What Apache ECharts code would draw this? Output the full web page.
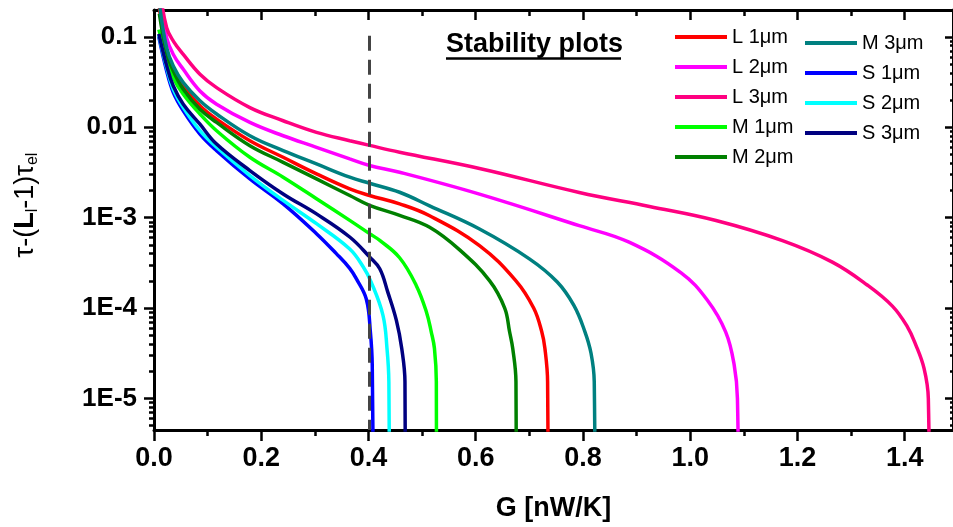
<!DOCTYPE html>
<html>
<head>
<meta charset="utf-8">
<script src="https://cdn.jsdelivr.net/npm/echarts@6/dist/echarts.min.js"></script>
<style>
    html, body { margin: 0; padding: 0; background: #fff; }
    #chart { width: 953px; height: 527px; }
</style>
</head>
<body>
<div id="chart"></div>
<script>
// values: [G (nW/K), tau-(L-1)tau_el]
var L1 = [[0.010, 0.21], [0.0236, 0.0695], [0.036, 0.0437], [0.0546, 0.0286], [0.0857, 0.0173], [0.1167, 0.0123],
    [0.1788, 0.0071], [0.2408, 0.00465], [0.303, 0.00305], [0.365, 0.00208], [0.402, 0.00176], [0.458, 0.00142],
    [0.514, 0.00105], [0.607, 4.91e-4], [0.675, 2.0e-4], [0.708, 1.0e-4], [0.723, 5.5e-5], [0.729, 3.57e-5],
    [0.734, 1.53e-5], [0.7355, 1e-7]];
var L2 = [[0.011, 0.25], [0.0236, 0.0975], [0.036, 0.0638], [0.0546, 0.0437], [0.0857, 0.0252], [0.1167, 0.018],
    [0.1788, 0.0113], [0.2408, 0.00805], [0.303, 0.006], [0.365, 0.00446], [0.402, 0.00377], [0.458, 0.00318],
    [0.607, 0.00182], [0.793, 8.15e-4], [0.886, 5.35e-4], [0.983, 2.45e-4], [1.032, 1.22e-4], [1.066, 5.46e-5],
    [1.082, 2.34e-5], [1.088, 1.0e-5], [1.091, 1e-7]];
var L3 = [[0.012, 0.3], [0.0236, 0.126], [0.036, 0.0897], [0.0546, 0.0638], [0.0857, 0.0385], [0.1167, 0.0274],
    [0.1788, 0.0165], [0.2408, 0.0118], [0.303, 0.00877], [0.365, 0.0071], [0.402, 0.0063], [0.458, 0.0053],
    [0.607, 0.0035], [0.793, 0.0019], [0.924, 0.00133], [1.048, 9.3e-4], [1.172, 5.57e-4], [1.265, 3.22e-4],
    [1.33, 1.8e-4], [1.377, 1.05e-4], [1.405, 6.2e-5], [1.420, 4.0e-5], [1.436, 2.15e-5], [1.444, 1.0e-5],
    [1.447, 1e-7]];
var M1 = [[0.009, 0.12], [0.0236, 0.0587], [0.036, 0.0353], [0.0546, 0.0232], [0.0857, 0.014], [0.1167, 0.00915],
    [0.1788, 0.00465], [0.2408, 0.0028], [0.303, 0.00162], [0.365, 9.33e-4], [0.402, 6.65e-4], [0.421, 5.6e-4],
    [0.458, 3.6e-4], [0.489, 1.78e-4], [0.508, 9.06e-5], [0.517, 5.46e-5], [0.523, 3.57e-5], [0.5265, 1.53e-5],
    [0.527, 1e-7]];
var M2 = [[0.010, 0.18], [0.0236, 0.0667], [0.036, 0.0419], [0.0546, 0.0263], [0.0857, 0.0158], [0.1167, 0.0113],
    [0.1788, 0.00625], [0.2408, 0.00409], [0.303, 0.00268], [0.365, 0.00176], [0.402, 0.00137], [0.458, 0.00106],
    [0.514, 7.82e-4], [0.570, 4.4e-4], [0.626, 2.0e-4], [0.654, 1.0e-4], [0.663, 5.5e-5], [0.669, 3.57e-5],
    [0.675, 1.53e-5], [0.676, 1e-7]];
var M3 = [[0.011, 0.21], [0.0236, 0.0757], [0.036, 0.0475], [0.0546, 0.0311], [0.0857, 0.0196], [0.1167, 0.014],
    [0.1788, 0.00805], [0.2408, 0.00551], [0.303, 0.00393], [0.365, 0.0028], [0.402, 0.0024], [0.458, 0.00191],
    [0.514, 0.00135], [0.607, 7.48e-4], [0.700, 3.5e-4], [0.752, 1.94e-4], [0.783, 1.07e-4], [0.803, 5.6e-5],
    [0.815, 3.16e-5], [0.821, 1.53e-5], [0.823, 1e-7]];
var S1 = [[0.009, 0.1], [0.0236, 0.0419], [0.036, 0.0242], [0.0546, 0.0152], [0.0857, 0.0084], [0.1167, 0.00551],
    [0.1788, 0.00268], [0.2408, 0.00142], [0.303, 6.65e-4], [0.340, 4.0e-4], [0.365, 2.75e-4], [0.3775, 2.1e-4],
    [0.396, 1.25e-4], [0.4035, 5.46e-5], [0.407, 2.34e-5], [0.4097, 1e-7]];
var S2 = [[0.009, 0.105], [0.0236, 0.0456], [0.036, 0.0263], [0.0546, 0.0165], [0.0857, 0.00915], [0.1167, 0.006],
    [0.1788, 0.00292], [0.2408, 0.00155], [0.303, 8.57e-4], [0.365, 4.5e-4], [0.39, 2.86e-4],
    [0.405, 1.94e-4], [0.427, 8.32e-5], [0.4345, 3.57e-5], [0.438, 1.53e-5], [0.4395, 1e-7]];
var S3 = [[0.009, 0.108], [0.0236, 0.048], [0.036, 0.0286], [0.0546, 0.018], [0.0857, 0.0108], [0.1167, 0.00651],
    [0.1788, 0.00332], [0.2408, 0.00183], [0.303, 0.0011], [0.365, 6.11e-4], [0.402, 3.68e-4], [0.421, 2.72e-4],
    [0.436, 1.5e-4], [0.452, 7.3e-5], [0.462, 3.57e-5], [0.468, 1.53e-5], [0.469, 1e-7]];

var seriesNames = ['L 1μm', 'L 2μm', 'L 3μm', 'M 1μm', 'M 2μm', 'M 3μm', 'S 1μm', 'S 2μm', 'S 3μm'];
var seriesData = [L1, L2, L3, M1, M2, M3, S1, S2, S3];
var seriesColors = ['#FF0000', '#FF00FF', '#FF0080', '#00FF00', '#008000', '#008080', '#0000FF', '#00FFFF', '#000080'];
var legendLeft = ['L 1μm', 'L 2μm', 'L 3μm', 'M 1μm', 'M 2μm'];
var legendRight = ['M 3μm', 'S 1μm', 'S 2μm', 'S 3μm'];

var xMajorTicks = [0, 0.2, 0.4, 0.6, 0.8, 1.0, 1.2, 1.4];
var xMinorTicks = [0.1, 0.3, 0.5, 0.7, 0.9, 1.1, 1.3];
var yTickValues = [1e-5, 1e-4, 1e-3, 0.01, 0.1];
var yTickLabels = ['1E-5', '1E-4', '1E-3', '0.01', '0.1'];
var markerG = 0.402;   // dashed vertical line

var X_MIN = 0, X_MAX = 1.49;
var Y_MIN = Math.log10(4.48e-6), Y_MAX = Math.log10(0.198);
var FONT = "'Liberation Sans', Arial, sans-serif";

var yMajorLog = yTickValues.map(function (v) { return Math.log10(v); });
var yMinorLog = [];
for (var n = -6; n <= -1; n++) {
    for (var k = 2; k <= 9; k++) {
        var lv = Math.log10(k * Math.pow(10, n));
        if (lv > Y_MIN && lv < Y_MAX) yMinorLog.push(lv);
    }
}

function xAxisItem (pos, ticks, len, inside, showLine, showLabel) {
    return {
        type: 'value', position: pos, min: X_MIN, max: X_MAX,
        splitLine: { show: false },
        axisLine: { show: showLine, onZero: false, lineStyle: { color: '#000', width: 3 } },
        axisTick: { show: true, customValues: ticks, inside: inside, length: len,
            lineStyle: { color: '#000', width: 2.5 } },
        axisLabel: { show: showLabel, customValues: ticks, margin: 15,
            formatter: function (v) { return v.toFixed(1); },
            color: '#000', fontSize: 27, fontWeight: 'bold', fontFamily: FONT }
    };
}

function yAxisItem (pos, ticks, len, inside, showLine, showLabel) {
    return {
        type: 'value', position: pos, min: Y_MIN, max: Y_MAX,
        splitLine: { show: false },
        axisLine: { show: showLine, onZero: false, lineStyle: { color: '#000', width: 3 } },
        axisTick: { show: true, customValues: ticks, inside: inside, length: len,
            lineStyle: { color: '#000', width: 2.5 } },
        axisLabel: { show: showLabel, customValues: ticks, margin: 17,
            formatter: function (v) {
                for (var i = 0; i < yMajorLog.length; i++) {
                    if (Math.abs(yMajorLog[i] - v) < 1e-6) return yTickLabels[i];
                }
                return '';
            },
            color: '#000', fontSize: 26, fontWeight: 'bold', fontFamily: FONT }
    };
}

var xAxes = [
    xAxisItem('bottom', xMajorTicks, 11, false, true, true),
    xAxisItem('bottom', xMinorTicks, 6, false, false, false),
    xAxisItem('top', xMajorTicks, 10, true, true, false),
    xAxisItem('top', xMinorTicks, 6, true, false, false)
];
xAxes[0].name = 'G [nW/K]';
xAxes[0].nameLocation = 'middle';
xAxes[0].nameGap = 65;
xAxes[0].nameTextStyle = { color: '#000', fontSize: 27, fontWeight: 'bold', fontFamily: FONT };

var yAxes = [
    yAxisItem('left', yMajorLog, 10, false, true, true),
    yAxisItem('left', yMinorLog, 5, false, false, false),
    yAxisItem('right', yMajorLog, 8, true, true, false),
    yAxisItem('right', yMinorLog, 3, true, false, false)
];

var series = seriesNames.map(function (name, i) {
    return {
        name: name,
        type: 'line',
        xAxisIndex: 0,
        yAxisIndex: 0,
        data: seriesData[i].map(function (p) { return [p[0], Math.log10(p[1])]; }),
        showSymbol: false,
        symbol: 'none',
        smooth: 0.4,
        clip: true,
        color: seriesColors[i],
        lineStyle: { color: seriesColors[i], width: 3.5 }
    };
});

// dashed marker
series[0].markLine = {
    silent: true,
    symbol: ['none', 'none'],
    label: { show: false },
    lineStyle: { color: '#444', width: 3, type: [15, 9] },
    data: [[{ coord: [markerG, Math.log10(0.1025)] }, { coord: [markerG, Y_MIN] }]]
};

function legendItem (names, left, top) {
    return {
        data: names, orient: 'vertical', left: left, top: top, padding: 0,
        icon: 'rect', itemWidth: 52, itemHeight: 4, itemGap: 10,
        textStyle: { color: '#000', fontSize: 20, fontFamily: FONT, lineHeight: 20 }
    };
}

var chart = echarts.init(document.getElementById('chart'));
var option = {
    animation: false,
    backgroundColor: '#fff',
    grid: { left: 154, top: 10, width: 800, height: 422, containLabel: false },
    xAxis: xAxes,
    yAxis: yAxes,
    legend: [legendItem(legendLeft, 675, 27), legendItem(legendRight, 805, 33)],
    graphic: [
        {
            type: 'text', left: 446, top: 31,
            style: { text: 'Stability plots', fill: '#000', font: 'bold 27px ' + FONT }
        },
        {
            type: 'line', shape: { x1: 446, y1: 58.5, x2: 621, y2: 58.5 },
            style: { stroke: '#000', lineWidth: 2.5 }
        },
        {
            type: 'text', x: 26, y: 205, rotation: Math.PI / 2,
            style: {
                text: '{t|τ-(}{b|L}{s|l}{t|-1)τ}{s|el}',
                align: 'center', verticalAlign: 'middle',
                rich: {
                    t: { fontSize: 27, fontFamily: FONT, fill: '#000', lineHeight: 30 },
                    b: { fontSize: 27, fontFamily: FONT, fontWeight: 'bold', fill: '#000', lineHeight: 30 },
                    s: { fontSize: 16, fontFamily: FONT, fill: '#000', lineHeight: 30, verticalAlign: 'bottom', padding: [10, 0, 0, 0] }
                }
            }
        }
    ],
    series: series
};
chart.setOption(option);
</script>
</body>
</html>
